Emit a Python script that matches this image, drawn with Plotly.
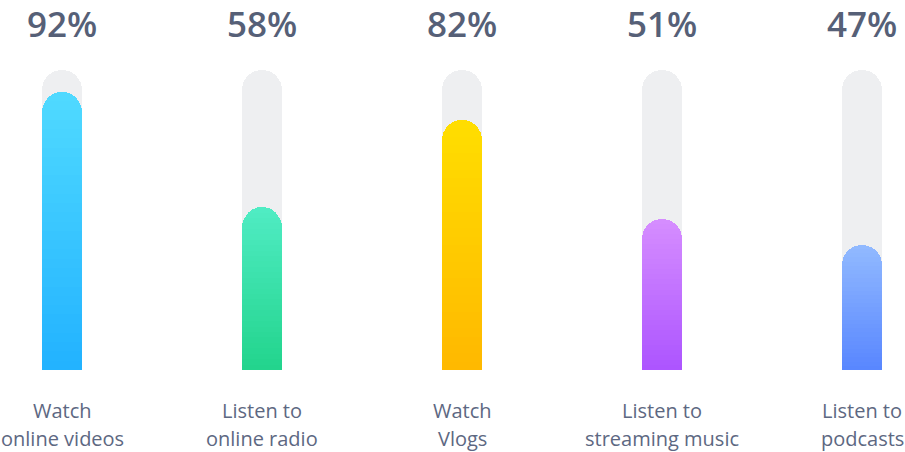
import plotly.graph_objects as go

# habits asked about, one bar each
categories = ["Watch<br>online videos", "Listen to<br>online radio", "Watch<br>Vlogs",
              "Listen to<br>streaming music", "Listen to<br>podcasts"]
pct_labels = ["92%", "58%", "82%", "51%", "47%"]
# bar fill levels as drawn (0-100 scale of the grey track)
bar_levels = [92.7, 54.3, 83.3, 50.3, 41.7]
track_levels = [100, 100, 100, 100, 100]

# gradient ends per bar: bottom colour, top colour
bottom_colors = [(34, 178, 255), (34, 212, 140), (255, 184, 0), (172, 84, 255), (88, 134, 255)]
top_colors = [(80, 218, 255), (80, 236, 196), (255, 222, 0), (214, 142, 255), (146, 186, 255)]

N_SLICES = 30
x_idx = list(range(len(categories)))

W, H = 905, 452


def mix(c0, c1, t):
    return "rgb(%d,%d,%d)" % tuple(round(a + (b - a) * t) for a, b in zip(c0, c1))


fig = go.Figure()

# grey track behind each bar
fig.add_trace(go.Bar(
    x=x_idx, y=track_levels, width=0.2,
    marker=dict(color="#eeeff1", cornerradius=20, line=dict(width=0)),
    hoverinfo="skip", xaxis="x", yaxis="y"
))

# coloured bar, stacked in thin slices to get a vertical gradient
for k in range(N_SLICES):
    t = (k + 0.5) / N_SLICES
    fig.add_trace(go.Bar(
        x=x_idx, y=[v / N_SLICES for v in bar_levels], width=0.2,
        marker=dict(color=[mix(b, tp, t) for b, tp in zip(bottom_colors, top_colors)],
                    cornerradius=20, line=dict(width=0)),
        hoverinfo="skip", xaxis="x2", yaxis="y"
    ))

for i in x_idx:
    fig.add_annotation(x=i, xref="x", y=1 - 23 / H, yref="paper", text=pct_labels[i],
                       showarrow=False, yanchor="middle",
                       font=dict(family="Open Sans", size=35, color="#566077", weight=600))
    for j, line in enumerate(categories[i].split("<br>")):
        fig.add_annotation(x=i, xref="x", y=1 - (410 + 28 * j) / H, yref="paper", text=line,
                           showarrow=False, yanchor="middle",
                           font=dict(family="Open Sans", size=20, color="#5d6882"))

xr = [-62 / 200, (W - 62) / 200]
fig.update_layout(
    width=W, height=H,
    margin=dict(l=0, r=0, t=0, b=0),
    paper_bgcolor="white", plot_bgcolor="white",
    barmode="stack", bargap=0,
    showlegend=False,
    xaxis=dict(range=xr, visible=False, fixedrange=True),
    xaxis2=dict(range=xr, visible=False, overlaying="x", fixedrange=True),
    yaxis=dict(range=[-(H - 370) / 3, 370 / 3], visible=False, fixedrange=True),
)

# drop the default body margin so the figure fills the window
fig.write_html("out.html", config={"displayModeBar": False},
               post_script="document.body.style.margin = '0';")
